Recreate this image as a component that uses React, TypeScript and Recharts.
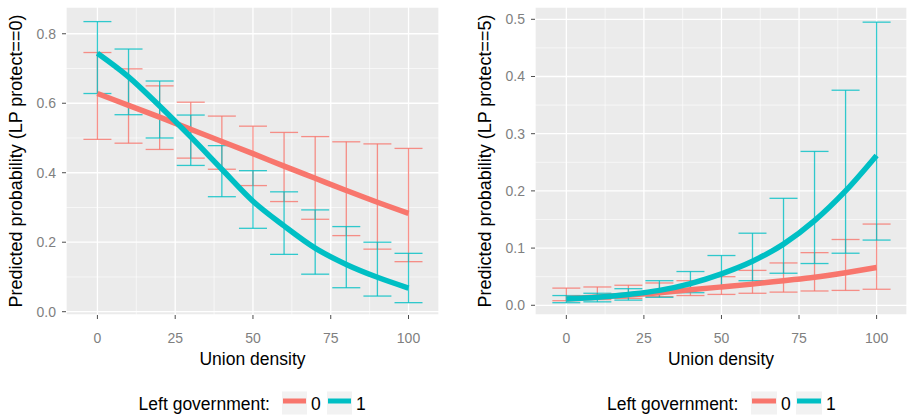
import React from 'react';
import { ComposedChart, Line, XAxis, YAxis, CartesianGrid, ErrorBar, ReferenceLine } from 'recharts';

// ---------- data ----------
const unionDensity = [0, 10, 20, 30, 40, 50, 60, 70, 80, 90, 100];
const xTicks = [0, 25, 50, 75, 100];
const xMinor = [12.5, 37.5, 62.5, 87.5];

// Panel 1: Predicted probability (LP protect==0)
const p0Gov0 = [0.628, 0.594, 0.560, 0.525, 0.490, 0.455, 0.419, 0.384, 0.349, 0.315, 0.283];
const p0Gov0Lo = [0.496, 0.485, 0.467, 0.442, 0.410, 0.363, 0.317, 0.266, 0.219, 0.180, 0.144];
const p0Gov0Hi = [0.746, 0.699, 0.650, 0.603, 0.563, 0.534, 0.516, 0.504, 0.489, 0.483, 0.470];
const p0Gov1 = [0.744, 0.676, 0.592, 0.503, 0.410, 0.318, 0.247, 0.183, 0.136, 0.099, 0.068];
const p0Gov1Lo = [0.628, 0.567, 0.500, 0.421, 0.331, 0.240, 0.165, 0.108, 0.069, 0.045, 0.026];
const p0Gov1Hi = [0.835, 0.756, 0.664, 0.566, 0.478, 0.406, 0.345, 0.293, 0.245, 0.200, 0.168];
const p0YTicks = [0, 0.2, 0.4, 0.6, 0.8];
const p0YMinor = [0.1, 0.3, 0.5, 0.7];
const p0YTickLabels = ['0.0', '0.2', '0.4', '0.6', '0.8'];

// Panel 2: Predicted probability (LP protect==5)
const p5Gov0 = [0.0115, 0.0145, 0.018, 0.022, 0.027, 0.032, 0.037, 0.043, 0.049, 0.057, 0.066];
const p5Gov0Lo = [0.008, 0.010, 0.012, 0.015, 0.017, 0.019, 0.021, 0.023, 0.025, 0.026, 0.028];
const p5Gov0Hi = [0.030, 0.032, 0.035, 0.039, 0.043, 0.050, 0.061, 0.074, 0.092, 0.115, 0.142];
const p5Gov1 = [0.011, 0.014, 0.019, 0.026, 0.038, 0.055, 0.077, 0.107, 0.148, 0.200, 0.262];
const p5Gov1Lo = [0.0045, 0.006, 0.009, 0.014, 0.022, 0.032, 0.043, 0.056, 0.073, 0.091, 0.114];
const p5Gov1Hi = [0.017, 0.021, 0.029, 0.043, 0.059, 0.087, 0.126, 0.187, 0.269, 0.376, 0.495];
const p5YTicks = [0, 0.1, 0.2, 0.3, 0.4, 0.5];
const p5YMinor = [0.05, 0.15, 0.25, 0.35, 0.45];
const p5YTickLabels = ['0.0', '0.1', '0.2', '0.3', '0.4', '0.5'];

const xTitleText = 'Union density';
const yTitle0 = 'Predicted probability (LP protect==0)';
const yTitle5 = 'Predicted probability (LP protect==5)';
const legendTitle = 'Left government:';
const legendLabels = ['0', '1'];
const COLORS = ['#F8766D', '#00BFC4'];

const FONT = '"Liberation Sans", Arial, Helvetica, sans-serif';

function buildRows(g0: number[], g0Lo: number[], g0Hi: number[], g1: number[], g1Lo: number[], g1Hi: number[]) {
  return unionDensity.map((x, i) => ({
    x,
    gov0: g0[i],
    gov1: g1[i],
    gov0Err: [g0[i] - g0Lo[i], g0Hi[i] - g0[i]],
    gov1Err: [g1[i] - g1Lo[i], g1Hi[i] - g1[i]],
  }));
}

const rows0 = buildRows(p0Gov0, p0Gov0Lo, p0Gov0Hi, p0Gov1, p0Gov1Lo, p0Gov1Hi);
const rows5 = buildRows(p5Gov0, p5Gov0Lo, p5Gov0Hi, p5Gov1, p5Gov1Lo, p5Gov1Hi);

type PanelProps = {
  rows: any[];
  yDomain: [number, number];
  yTicks: number[];
  yMinor: number[];
  yTickLabels: string[];
  yTitle: string;
  width: number;
  marginLeft: number;
  marginRight: number;
};

function Panel({ rows, yDomain, yTicks, yMinor, yTickLabels, yTitle, width, marginLeft, marginRight }: PanelProps) {
  const xLabel = (props: any) => {
    const vb = props.viewBox || {};
    return (
      <text x={vb.x + vb.width / 2} y={vb.y + 50} textAnchor="middle" fontSize={17.5} fill="#000" fontFamily={FONT}>
        {xTitleText}
      </text>
    );
  };
  const yLabel = (props: any) => {
    const vb = props.viewBox || {};
    const bx = vb.x + 15.5;
    const cy = vb.y + vb.height / 2;
    return (
      <text x={bx} y={cy} transform={`rotate(-90, ${bx}, ${cy})`} textAnchor="middle" fontSize={18} fill="#000" fontFamily={FONT}>
        {yTitle}
      </text>
    );
  };
  return (
    <ComposedChart
      width={width}
      height={415}
      data={rows}
      margin={{ top: 7, right: marginRight, bottom: 70, left: marginLeft }}
      style={{ fontFamily: FONT }}
    >
      <CartesianGrid fill="#EBEBEB" fillOpacity={1} stroke="#FFFFFF" strokeWidth={1.3} />
      {yMinor.map((v) => (
        <ReferenceLine key={'ym' + v} y={v} stroke="#FFFFFF" strokeWidth={0.6} />
      ))}
      {xMinor.map((v) => (
        <ReferenceLine key={'xm' + v} x={v} stroke="#FFFFFF" strokeWidth={0.6} />
      ))}
      <XAxis
        type="number"
        dataKey="x"
        domain={[-10.1, 109.8]}
        ticks={xTicks}
        interval={0}
        allowDataOverflow
        axisLine={false}
        tickLine={{ stroke: '#4d4d4d', strokeWidth: 1 }}
        tickSize={4}
        tickMargin={14}
        tick={{ fill: '#7f7f7f', fontSize: 14 }}
        height={30}
        label={xLabel}
      />
      <YAxis
        type="number"
        domain={yDomain}
        ticks={yTicks}
        interval={0}
        allowDataOverflow
        axisLine={false}
        tickLine={{ stroke: '#4d4d4d', strokeWidth: 1 }}
        tickSize={4}
        tickMargin={6}
        tick={{ fill: '#7f7f7f', fontSize: 14 }}
        tickFormatter={(v: number) => yTickLabels[yTicks.indexOf(v)] ?? String(v)}
        width={60}
        label={yLabel}
      />
      <Line dataKey="gov0" stroke="none" dot={false} activeDot={false} isAnimationActive={false} legendType="none">
        <ErrorBar dataKey="gov0Err" width={14} stroke={COLORS[0]} strokeWidth={1.3} strokeOpacity={0.8} direction="y" />
      </Line>
      <Line dataKey="gov1" stroke="none" dot={false} activeDot={false} isAnimationActive={false} legendType="none">
        <ErrorBar dataKey="gov1Err" width={14} stroke={COLORS[1]} strokeWidth={1.3} strokeOpacity={0.8} direction="y" />
      </Line>
      <Line type="monotone" dataKey="gov0" stroke={COLORS[0]} strokeWidth={5.5} dot={false} activeDot={false} isAnimationActive={false} />
      <Line type="monotone" dataKey="gov1" stroke={COLORS[1]} strokeWidth={5.5} dot={false} activeDot={false} isAnimationActive={false} />
    </ComposedChart>
  );
}

type LegendPos = { textX: number; box0: number; label0: number; box1: number; label1: number; boxW: number };

function LegendRow({ p }: { p: LegendPos }) {
  return (
    <g>
      <text x={p.textX} y={25} fontSize={17.5} fill="#000" fontFamily={FONT}>{legendTitle}</text>
      {[p.box0, p.box1].map((bx, i) => (
        <g key={i}>
          <rect x={bx} y={6.5} width={p.boxW} height={23} fill="#F2F2F2" />
          <rect x={bx + 1} y={13.5} width={p.boxW - 2} height={5} fill={COLORS[i]} />
        </g>
      ))}
      <text x={p.label0} y={25} fontSize={17.5} fill="#000" fontFamily={FONT}>{legendLabels[0]}</text>
      <text x={p.label1} y={25} fontSize={17.5} fill="#000" fontFamily={FONT}>{legendLabels[1]}</text>
    </g>
  );
}

export default function App() {
  return (
    <div style={{ position: 'fixed', left: 0, top: 0, width: 907, height: 415, background: '#fff', overflow: 'hidden', fontFamily: FONT }}>
      <div style={{ position: 'absolute', left: 0, top: 0 }}>
        <Panel rows={rows0} yDomain={[-0.0095, 0.877]} yTicks={p0YTicks} yMinor={p0YMinor} yTickLabels={p0YTickLabels}
          yTitle={yTitle0} width={450} marginLeft={6} marginRight={11} />
      </div>
      <div style={{ position: 'absolute', left: 450, top: 0 }}>
        <Panel rows={rows5} yDomain={[-0.017, 0.5215]} yTicks={p5YTicks} yMinor={p5YMinor} yTickLabels={p5YTickLabels}
          yTitle={yTitle5} width={457} marginLeft={25} marginRight={0} />
      </div>
      <svg width={907} height={30} style={{ position: 'absolute', left: 0, top: 385 }}>
        <LegendRow p={{ textX: 138.6, box0: 282, label0: 311, box1: 327, label1: 356, boxW: 25 }} />
        <LegendRow p={{ textX: 607, box0: 751, label0: 781, box1: 796, label1: 826, boxW: 26 }} />
      </svg>
    </div>
  );
}
